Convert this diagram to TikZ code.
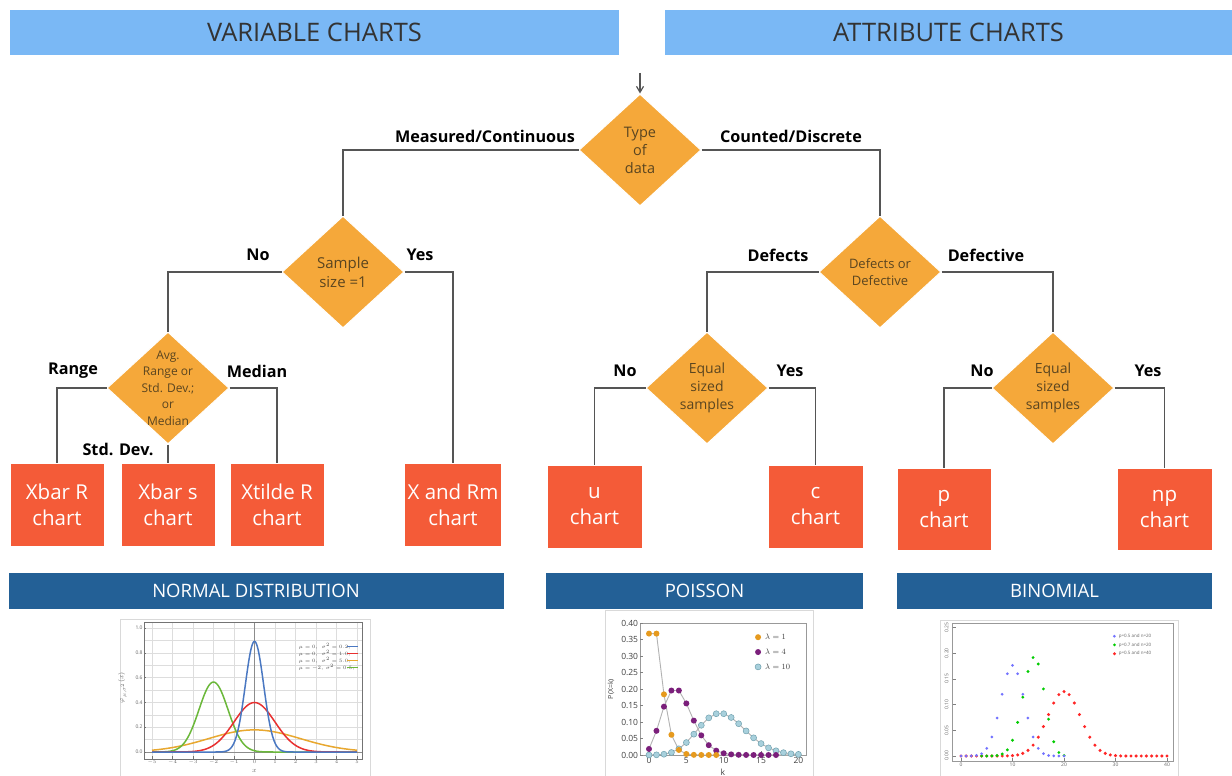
\documentclass[tikz,border=0pt]{standalone}
\usepackage{fontspec}
\setmainfont{Open Sans}
\usetikzlibrary{shapes.geometric,arrows.meta}
\definecolor{headblue}{HTML}{7AB8F5}
\definecolor{barblue}{HTML}{236096}
\definecolor{dorange}{HTML}{F5A83A}
\definecolor{boxred}{HTML}{F45B38}
\definecolor{linegray}{HTML}{555555}
\definecolor{diatext}{HTML}{5A4520}
\definecolor{gridgray}{HTML}{DDDDDD}
\definecolor{nblue}{HTML}{4A78C2}
\definecolor{nred}{HTML}{E83030}
\definecolor{nyellow}{HTML}{E8A830}
\definecolor{ngreen}{HTML}{6BB83A}
\definecolor{porange}{HTML}{E69A1E}
\definecolor{ppurple}{HTML}{7B1F7B}
\definecolor{pcyan}{HTML}{A8D0DC}
\definecolor{pcyanedge}{HTML}{6FA0AE}
\tikzset{
  header/.style={fill=headblue, draw=none, minimum height=45pt, text=black!80, font=\fontsize{25.5}{28}\selectfont, inner sep=0pt},
  dia/.style={diamond, fill=dorange, draw=white, line width=1pt, minimum width=122pt, minimum height=112pt, inner sep=-14pt, align=center, text=diatext},
  chartbox/.style={fill=boxred, draw=white, line width=1pt, text=white, align=center, font=\fontsize{20.5}{26}\selectfont},
  conn/.style={draw=linegray, line width=1.5pt},
  lbl/.style={font=\bfseries\fontsize{16.2}{18}\selectfont, text=black, inner sep=0pt},
  distbar/.style={fill=barblue, draw=none, text=white, minimum height=36pt, font=\fontsize{18.5}{21}\selectfont, inner sep=0pt},
  plotframe/.style={draw=black!15, fill=white, line width=0.8pt},
  axframe/.style={draw=black!55, line width=0.8pt},
  tinytick/.style={font=\fontsize{5}{6}\selectfont, text=black!60, inner sep=1pt},
  smalltick/.style={font=\fontsize{8.5}{10}\selectfont, text=black!75, inner sep=1pt},
}
\begin{document}
\begin{tikzpicture}[x=1pt,y=-1pt]
\useasboundingbox (0,0) rectangle (1232,776);

% ---- section headers
\node[header, minimum width=609pt] (hvar) at (314.5,32.5) {VARIABLE CHARTS};
\node[header, minimum width=567pt] (hatt) at (948.5,32.5) {ATTRIBUTE CHARTS};

% ---- decision diamonds
\node[dia, font=\fontsize{14.5}{18}\selectfont] (dtype) at (640,150) {Type\\of\\data};
\node[dia, font=\fontsize{15}{19}\selectfont] (dsize) at (343,272) {Sample\\size =1};
\node[dia, font=\fontsize{12}{16.5}\selectfont] (davg) at (168,388) {Avg.\\Range or\\Std. Dev.;\\or\\Median};
\node[dia, font=\fontsize{13}{17}\selectfont] (ddef) at (880,272) {Defects or\\Defective};
\node[dia, font=\fontsize{14}{18}\selectfont] (deq1) at (707,388) {Equal\\sized\\samples};
\node[dia, font=\fontsize{14}{18}\selectfont] (deq2) at (1053,388) {Equal\\sized\\samples};

% ---- chart boxes
\node[chartbox, minimum width=94pt, minimum height=83pt] (bxr) at (57,504.5) {Xbar R\\chart};
\node[chartbox, minimum width=94pt, minimum height=83pt] (bxs) at (168,504.5) {Xbar s\\chart};
\node[chartbox, minimum width=94pt, minimum height=83pt] (bxt) at (277,504.5) {Xtilde R\\chart};
\node[chartbox, minimum width=96pt, minimum height=83pt] (bxm) at (453,504.5) {X and Rm\\chart};
\node[chartbox, minimum width=95pt, minimum height=83pt] (bu) at (594.5,506.5) {u\\chart};
\node[chartbox, minimum width=95pt, minimum height=83pt] (bc) at (815.5,506.5) {c\\chart};
\node[chartbox, minimum width=94pt, minimum height=82pt] (bp) at (944,509) {p\\chart};
\node[chartbox, minimum width=95pt, minimum height=82pt] (bnp) at (1164.5,509) {np\\chart};

% ---- connectors
\coordinate (start) at (640,73);
\draw[conn, line width=1.2pt, -{Straight Barb[length=6pt,width=7pt]}] (start) -- (dtype.north);
\draw[conn] (dtype.west) -| (dsize.north);
\draw[conn] (dtype.east) -| (ddef.north);
\draw[conn] (dsize.west) -| (davg.north);
\draw[conn] (dsize.east) -| (bxm.north);
\draw[conn] (davg.west) -| (bxr.north);
\draw[conn] (davg.south) -- (bxs.north);
\draw[conn] (davg.east) -| (bxt.north);
\draw[conn] (ddef.west) -| (deq1.north);
\draw[conn] (ddef.east) -| (deq2.north);
\draw[conn] (deq1.west) -| (bu.north);
\draw[conn] (deq1.east) -| (bc.north);
\draw[conn] (deq2.west) -| (bp.north);
\draw[conn] (deq2.east) -| (bnp.north);

% ---- branch labels
\node[lbl] (lmeas) at (485,136) {Measured/Continuous};
\node[lbl] (lcount) at (791,136) {Counted/Discrete};
\node[lbl] (lno1) at (258,255) {No};
\node[lbl] (lyes1) at (420,255) {Yes};
\node[lbl] (ldefects) at (778,255) {Defects};
\node[lbl] (ldefective) at (986,255) {Defective};
\node[lbl] (lrange) at (73,371) {Range};
\node[lbl] (lmedian) at (257,371) {Median};
\node[lbl] (lstd) at (118,449) {Std. Dev.};
\node[lbl] (lno2) at (625,371) {No};
\node[lbl] (lyes2) at (790,371) {Yes};
\node[lbl] (lno3) at (982,371) {No};
\node[lbl] (lyes3) at (1148,371) {Yes};

% ---- distribution bars
\node[distbar, minimum width=495pt] (bnorm) at (256,591) {NORMAL DISTRIBUTION};
\node[distbar, minimum width=317pt] (bpois) at (704.5,591) {POISSON};
\node[distbar, minimum width=315pt] (bbin) at (1054.5,591) {BINOMIAL};

% ================= normal distribution plot
\fill[plotframe] (120,619) rectangle (370,780);
\coordinate (norig) at (254.5,752);
\begin{scope}[shift={(norig)}, x=20.5pt, y=124pt]
  \foreach \i in {-5,...,5} \draw[gridgray, line width=0.5pt] (\i,-0.056) -- (\i,1.048);
  \foreach \j in {0,0.1,...,1.01} \draw[gridgray, line width=0.5pt] (-5.39,\j) -- (5.24,\j);
  \draw[black!45, line width=0.7pt] (0,-0.056) -- (0,1.048);
  \draw[black!45, line width=0.7pt] (-5.39,0) -- (5.24,0);
  \draw[axframe] (-5.39,-0.056) rectangle (5.24,1.048);
  \foreach \i in {-5,...,5} {
    \draw[black!55, line width=0.5pt] (\i,-0.056) -- (\i,-0.035);
    \node[tinytick, anchor=north] at (\i,-0.06) {$\i$};
  }
  \foreach \j in {0.0,0.2,0.4,0.6,0.8,1.0} {
    \draw[black!55, line width=0.5pt] (-5.39,\j) -- (-5.3,\j);
    \node[tinytick, anchor=east] at (-5.4,\j) {\j};
  }
  \node[tinytick, font=\fontsize{7}{8}\selectfont] at (0,-0.155) {$x$};
  \node[tinytick, rotate=90, font=\fontsize{7}{8}\selectfont] at (-6.45,0.52) {$\varphi_{\mu,\sigma^2}(x)$};
  % density curves
  \draw[nyellow, line width=1.5pt] plot[domain=-5:5, samples=121, smooth] (\x,{exp(-(\x*\x)/10)/sqrt(10*pi)});
  \draw[ngreen, line width=1.5pt] plot[domain=-5:5, samples=161, smooth] (\x,{exp(-((\x+2)*(\x+2)))/sqrt(pi)});
  \draw[nred, line width=1.5pt] plot[domain=-5:5, samples=161, smooth] (\x,{exp(-(\x*\x)/2)/sqrt(2*pi)});
  \draw[nblue, line width=1.5pt] plot[domain=-5:5, samples=241, smooth] (\x,{exp(-(\x*\x)/0.4)/sqrt(0.4*pi)});
  % legend
  \foreach \c/\t [count=\r] in {nblue/{$\mu=0,\ \ \sigma^2=0.2,$}, nred/{$\mu=0,\ \ \sigma^2=1.0,$}, nyellow/{$\mu=0,\ \ \sigma^2=5.0,$}, ngreen/{$\mu=-2,\ \sigma^2=0.5,$}} {
    \node[tinytick, anchor=west, text=black!70] at (2.1,{0.905-0.056*\r}) {\t};
    \draw[\c, line width=1.4pt] (4.5,{0.905-0.056*\r}) -- (5.05,{0.905-0.056*\r});
  }
\end{scope}

% ================= Poisson plot
\fill[plotframe] (605,610) rectangle (813,780);
\coordinate (porig) at (649,755);
\begin{scope}[shift={(porig)}, x=7.47pt, y=330pt]
  \draw[axframe, line width=1pt, draw=black!40] (-1.2,0) rectangle (21.05,0.4);
  \foreach \i in {0,5,...,20} {
    \draw[black!50] (\i,0) -- (\i,0.012);
    \node[smalltick, anchor=north] at (\i,-0.004) {\i};
  }
  \foreach \j in {0.00,0.05,0.10,0.15,0.20,0.25,0.30,0.35,0.40} {
    \draw[black!50] (-1.2,\j) -- (-0.8,\j);
    \node[smalltick, anchor=east] at (-1.3,\j) {\j};
  }
  \node[smalltick] at (9.9,-0.052) {k};
  \node[smalltick, rotate=90, font=\fontsize{7}{8}\selectfont] at (-5.1,0.2) {P(X=k)};
  % connecting lines
  \draw[black!30, line width=0.9pt] plot coordinates {(0,0.3679) (1,0.3679) (2,0.1839) (3,0.0613) (4,0.0153) (5,0.0031) (6,0.0005) (7,0.0001) (8,0) (9,0) (10,0) (11,0) (12,0) (13,0) (14,0) (15,0) (16,0) (17,0) (18,0) (19,0) (20,0)};
  \draw[black!30, line width=0.9pt] plot coordinates {(0,0.0183) (1,0.0733) (2,0.1465) (3,0.1954) (4,0.1954) (5,0.1563) (6,0.1042) (7,0.0595) (8,0.0298) (9,0.0132) (10,0.0053) (11,0.0019) (12,0.0006) (13,0.0002) (14,0) (15,0) (16,0) (17,0) (18,0) (19,0) (20,0)};
  \draw[black!30, line width=0.9pt] plot coordinates {(0,0) (1,0.0005) (2,0.0023) (3,0.0076) (4,0.0189) (5,0.0378) (6,0.0631) (7,0.0901) (8,0.1126) (9,0.1251) (10,0.1251) (11,0.1137) (12,0.0948) (13,0.0729) (14,0.0521) (15,0.0347) (16,0.0217) (17,0.0128) (18,0.0071) (19,0.0037) (20,0.0019)};
  % markers
  \foreach \k/\v in {0/0,1/0.0005,2/0.0023,3/0.0076,4/0.0189,5/0.0378,6/0.0631,7/0.0901,8/0.1126,9/0.1251,10/0.1251,11/0.1137,12/0.0948,13/0.0729,14/0.0521,15/0.0347,16/0.0217,17/0.0128,18/0.0071,19/0.0037,20/0.0019}
    \filldraw[fill=pcyan, draw=pcyanedge, line width=0.5pt] (\k,\v) circle (3pt);
  \foreach \k/\v in {0/0.0183,1/0.0733,2/0.1465,3/0.1954,4/0.1954,5/0.1563,6/0.1042,7/0.0595,8/0.0298,9/0.0132,10/0.0053,11/0.0019,12/0.0006,13/0.0002,14/0,15/0,16/0,17/0}
    \fill[ppurple] (\k,\v) circle (3pt);
  \foreach \k/\v in {0/0.3679,1/0.3679,2/0.1839,3/0.0613,4/0.0153,5/0.0031,6/0.0005,7/0.0001,8/0,9/0}
    \fill[porange] (\k,\v) circle (3pt);
  % legend
  \fill[porange] (14.6,0.357) circle (3pt);
  \fill[ppurple] (14.6,0.312) circle (3pt);
  \filldraw[fill=pcyan, draw=pcyanedge, line width=0.5pt] (14.6,0.267) circle (3pt);
  \node[smalltick, anchor=west] at (15.4,0.357) {$\lambda=1$};
  \node[smalltick, anchor=west] at (15.4,0.312) {$\lambda=4$};
  \node[smalltick, anchor=west] at (15.4,0.267) {$\lambda=10$};
\end{scope}

% ================= binomial plot
\fill[plotframe] (940,620) rectangle (1178,780);
\coordinate (borig) at (961,756);
\begin{scope}[shift={(borig)}, x=5.15pt, y=514pt]
  \draw[axframe, draw=black!40, line width=1pt] (-1.6,-0.01) rectangle (41.2,0.258);
  \foreach \i in {0,10,...,40} {
    \draw[black!50] (\i,-0.01) -- (\i,-0.004);
    \node[tinytick, anchor=north] at (\i,-0.011) {\i};
  }
  \foreach \j in {0.00,0.05,0.10,0.15,0.20,0.25} {
    \draw[black!50] (-1.6,\j) -- (-0.9,\j);
    \node[tinytick, rotate=90] at (-2.8,\j) {\j};
  }
  % p=0.5, n=40
  \foreach \k/\v in {0/0,1/0,2/0,3/0,4/0,5/0,6/0,7/0,8/0,9/0.0002,10/0.0008,11/0.0021,12/0.0051,13/0.0109,14/0.0211,15/0.0366,16/0.0572,17/0.0807,18/0.1031,19/0.1194,20/0.1254,21/0.1194,22/0.1031,23/0.0807,24/0.0572,25/0.0366,26/0.0211,27/0.0109,28/0.0051,29/0.0021,30/0.0008,31/0.0002,32/0,33/0,34/0,35/0,36/0,37/0,38/0,39/0,40/0}
    \fill[red!85] (\k,\v) circle (1.7pt);
  % p=0.7, n=20
  \foreach \k/\v in {4/0,5/0,6/0.0002,7/0.0010,8/0.0039,9/0.0120,10/0.0308,11/0.0654,12/0.1144,13/0.1643,14/0.1916,15/0.1789,16/0.1304,17/0.0716,18/0.0278,19/0.0068,20/0.0008}
    \fill[green!80!black] (\k,\v) circle (1.6pt);
  % p=0.5, n=20
  \foreach \k/\v in {0/0,1/0,2/0.0002,3/0.0011,4/0.0046,5/0.0148,6/0.0370,7/0.0739,8/0.1201,9/0.1602,10/0.1762,11/0.1602,12/0.1201,13/0.0739,14/0.0370,15/0.0148,16/0.0046,17/0.0011,18/0.0002,19/0,20/0}
    \fill[blue!55] (\k,\v) circle (1.5pt);
  % legend
  \fill[blue!55] (29.8,0.233) circle (1.5pt);
  \fill[green!80!black] (29.8,0.216) circle (1.5pt);
  \fill[red!85] (29.8,0.199) circle (1.6pt);
  \node[tinytick, anchor=west, font=\fontsize{4.5}{5}\selectfont] at (30.4,0.233) {p=0.5 and n=20};
  \node[tinytick, anchor=west, font=\fontsize{4.5}{5}\selectfont] at (30.4,0.216) {p=0.7 and n=20};
  \node[tinytick, anchor=west, font=\fontsize{4.5}{5}\selectfont] at (30.4,0.199) {p=0.5 and n=40};
\end{scope}
\end{tikzpicture}
\end{document}
